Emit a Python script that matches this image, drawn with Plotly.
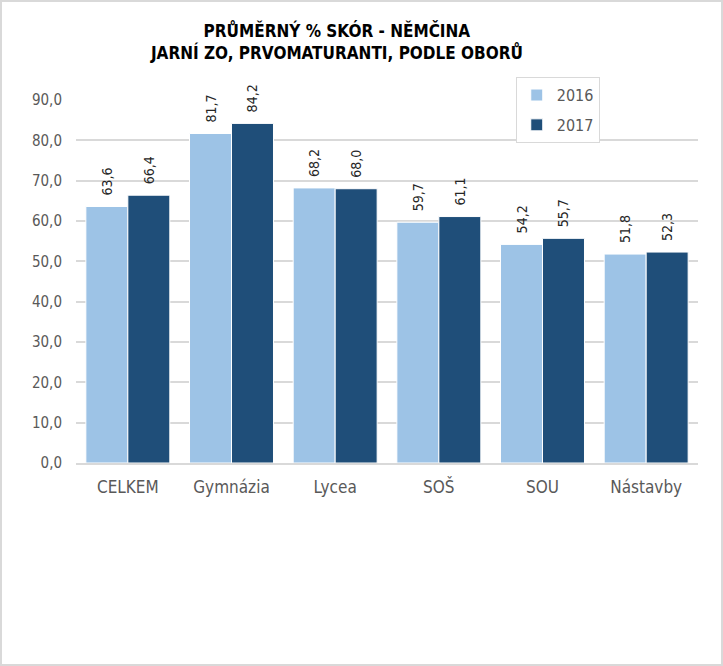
import plotly.graph_objects as go

categories = ["CELKEM", "Gymnázia", "Lycea", "SOŠ", "SOU", "Nástavby"]
values_2016 = [63.6, 81.7, 68.2, 59.7, 54.2, 51.8]
values_2017 = [66.4, 84.2, 68.0, 61.1, 55.7, 52.3]
series_names = ["2016", "2017"]
tick_vals = [0, 10, 20, 30, 40, 50, 60, 70, 80, 90]
tick_text = ["0,0", "10,0", "20,0", "30,0", "40,0", "50,0", "60,0", "70,0", "80,0", "90,0"]

FONT = "DejaVu Sans Condensed, Liberation Sans, sans-serif"
colors = ["#9dc3e6", "#1f4e79"]

def fmt(v):
    return "\u00a0\u00a0" + f"{v:.1f}".replace(".", ",")

fig = go.Figure()
for i, (name, vals, col) in enumerate(zip(series_names, [values_2016, values_2017], colors)):
    fig.add_trace(go.Bar(
        x=categories, y=vals, name=name, legendgroup=f"g{i}",
        marker=dict(color=col, line=dict(color="white", width=1)),
        text=[fmt(v) for v in vals], textposition="outside", textangle=-90,
        textfont=dict(family=FONT, size=14, color="#262626"),
        cliponaxis=False,
    ))

W, H = 723, 666
L, R, T, B = 76, 25, 100, 203
fig.update_layout(
    width=W, height=H,
    margin=dict(l=L, r=R, t=T, b=B),
    paper_bgcolor="white", plot_bgcolor="white",
    barmode="group", bargap=0.19, bargroupgap=0.0,
    font=dict(family=FONT, color="#595959", size=16),
    title=dict(
        text="<b>PRŮMĚRNÝ % SKÓR - NĚMČINA<br>JARNÍ ZO, PRVOMATURANTI, PODLE OBORŮ</b>",
        x=0.466, xanchor="center", y=0.944, yanchor="top",
        font=dict(family=FONT, size=17, color="black"),
    ),
    xaxis=dict(showgrid=False, showline=True, linecolor="#d9d9d9", linewidth=2,
               ticks="", ticklabelstandoff=8, tickfont=dict(size=17, color="#595959")),
    yaxis=dict(range=[0, 90], tickvals=tick_vals, ticktext=tick_text,
               showgrid=True, gridcolor="#d9d9d9", gridwidth=2, zeroline=False,
               ticks="", ticklabelstandoff=13, tickfont=dict(size=15, color="#595959")),
    legend=dict(x=0.707, y=1.063, xanchor="left", yanchor="top",
                bgcolor="white", bordercolor="#d9d9d9", borderwidth=1,
                font=dict(size=16, color="#595959"),
                itemwidth=30, tracegroupgap=6),
    shapes=[dict(type="rect", xref="paper", yref="paper",
                 x0=-(L - 1) / (W - L - R), x1=1 + (R - 1) / (W - L - R),
                 y0=-(B - 1) / (H - T - B), y1=1 + (T - 1) / (H - T - B),
                 line=dict(color="#d9d9d9", width=2), layer="below")],
)
fig.write_html("out.html", config={"displayModeBar": False},
               post_script="document.body.style.margin='0';document.body.style.overflow='hidden';")
